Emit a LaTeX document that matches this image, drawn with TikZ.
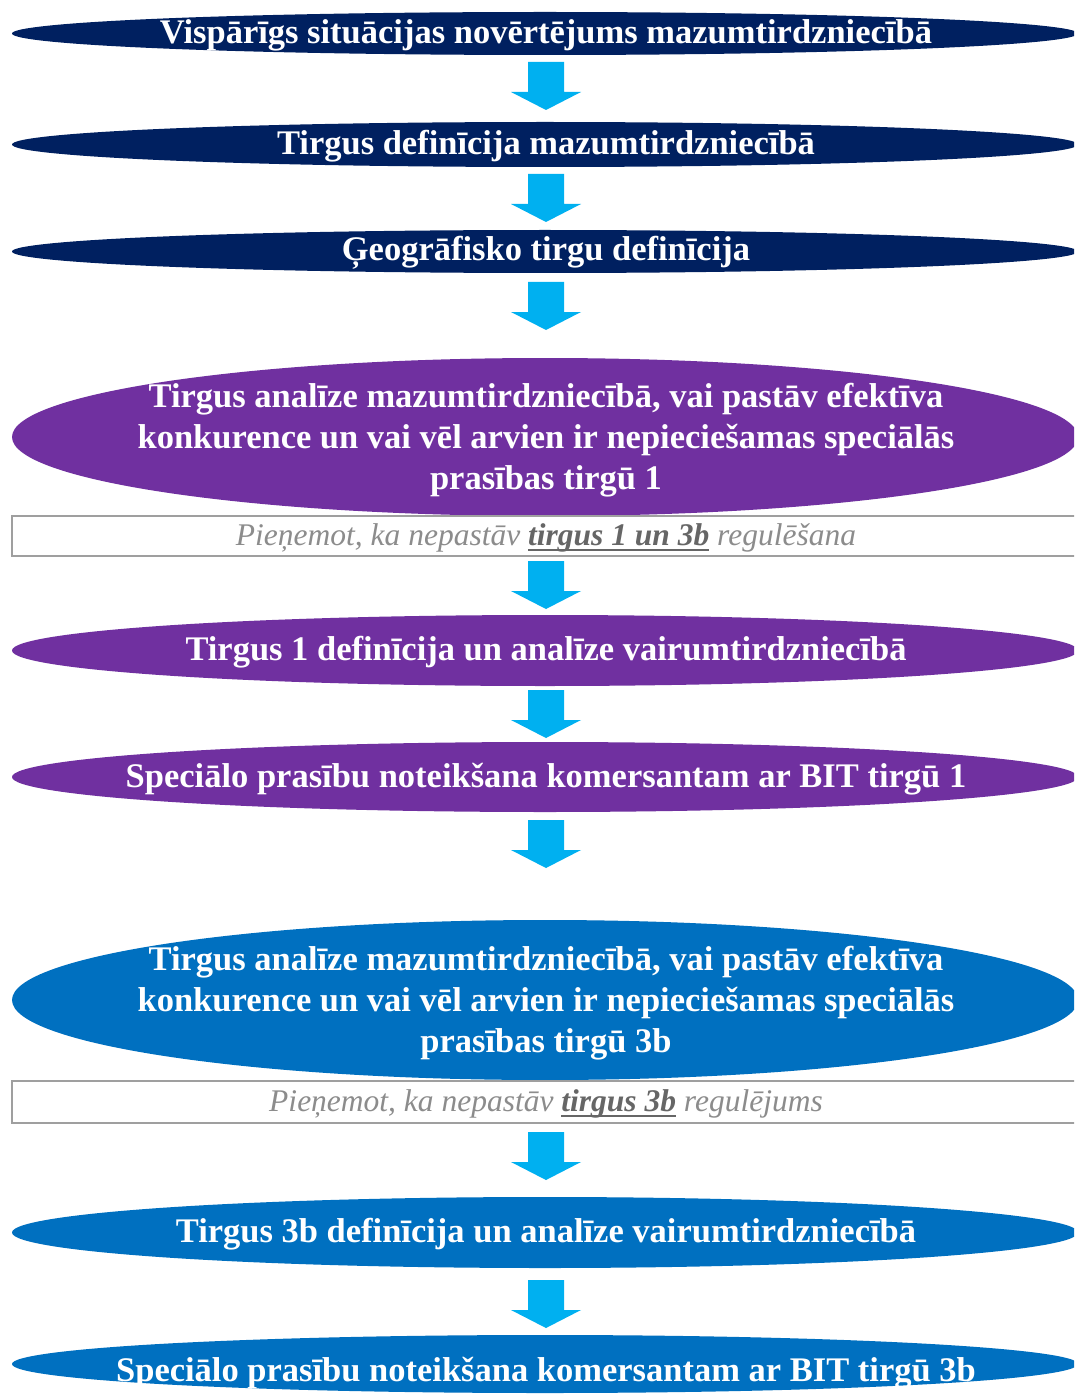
\documentclass[tikz,border=0pt]{standalone}
\usepackage{fontspec}
\setmainfont{Liberation Serif}
\usetikzlibrary{shapes.geometric}
\definecolor{navy}{HTML}{002060}
\definecolor{purp}{HTML}{7030A0}
\definecolor{blu}{HTML}{0070C0}
\definecolor{arrowblue}{HTML}{00B0F0}
\definecolor{notegray}{HTML}{8C8C8C}
\definecolor{notedark}{HTML}{666666}
\newcommand\myul[1]{\setbox0\hbox{\color{notedark}#1}\rlap{\color{notedark}\rule[-5pt]{\wd0}{2pt}}\box0}
\newcommand\blockarr[1]{\fill[arrowblue] (#1) ++(-18,0) -- ++(36,0) -- ++(0,30) -- ++(17,0) -- ++(-35,18) -- ++(-35,-18) -- ++(17,0) -- cycle;}
\begin{document}
\begin{tikzpicture}[x=1pt,y=-1pt,
  stagebg/.style={ellipse, inner sep=0pt, minimum width=1066pt},
  stagetext/.style={inner sep=0pt, text=white, align=center, font=\fontsize{34.5}{41}\selectfont\bfseries},
  notebox/.style={draw=gray!75, line width=1.5pt, minimum width=1076pt, inner sep=0pt},
  notetext/.style={inner sep=0pt, text=notegray, font=\fontsize{31.5}{36}\selectfont\itshape}]
\useasboundingbox (0,0) rectangle (1074,1396);
\clip (0,0) rectangle (1074,1396);
\fill[white] (0,0) rectangle (1074,1396);

% stage 1
\node[stagebg, fill=navy, minimum height=43pt] (e1) at (545,33.5) {};
\node[stagetext] (t1) at (546,35) {Vispārīgs situācijas novērtējums mazumtirdzniecībā};
\coordinate (a1) at (546,62);
\blockarr{a1}
% stage 2
\node[stagebg, fill=navy, minimum height=45pt] (e2) at (545,144.5) {};
\node[stagetext] (t2) at (546,146) {Tirgus definīcija mazumtirdzniecībā};
\coordinate (a2) at (546,174);
\blockarr{a2}
% stage 3
\node[stagebg, fill=navy, minimum height=43pt] (e3) at (545,251.5) {};
\node[stagetext] (t3) at (546,253) {Ģeogrāfisko tirgu definīcija};
\coordinate (a3) at (546,282);
\blockarr{a3}
% stage 4
\node[stagebg, fill=purp, minimum height=158pt] (e4) at (545,437) {};
\node[stagetext] (t4) at (546,440) {Tirgus analīze mazumtirdzniecībā, vai pastāv efektīva\\konkurence un vai vēl arvien ir nepieciešamas speciālās\\prasības tirgū 1};
\node[notebox, minimum height=40pt] (n1) at (550,536) {};
\node[notetext] (nt1) at (546,538) {Pieņemot, ka nepastāv \myul{\bfseries tirgus 1 un 3b}\ \textcolor{notegray}{regulēšana}};
\coordinate (a4) at (546,561);
\blockarr{a4}
% stage 6
\node[stagebg, fill=purp, minimum height=71pt] (e6) at (545,650.5) {};
\node[stagetext] (t6) at (546,652) {Tirgus 1 definīcija un analīze vairumtirdzniecībā};
\coordinate (a5) at (546,690);
\blockarr{a5}
% stage 7
\node[stagebg, fill=purp, minimum height=70pt] (e7) at (545,777) {};
\node[stagetext] (t7) at (546,779) {Speciālo prasību noteikšana komersantam ar BIT tirgū 1};
\coordinate (a6) at (546,820);
\blockarr{a6}
% stage 8
\node[stagebg, fill=blu, minimum height=160pt] (e8) at (545,1000) {};
\node[stagetext] (t8) at (546,1003) {Tirgus analīze mazumtirdzniecībā, vai pastāv efektīva\\konkurence un vai vēl arvien ir nepieciešamas speciālās\\prasības tirgū 3b};
\node[notebox, minimum height=42pt] (n2) at (550,1102) {};
\node[notetext] (nt2) at (546,1104) {Pieņemot, ka nepastāv \myul{\bfseries tirgus 3b}\ \textcolor{notegray}{regulējums}};
\coordinate (a7) at (546,1132);
\blockarr{a7}
% stage 10
\node[stagebg, fill=blu, minimum height=71pt] (e10) at (545,1232.5) {};
\node[stagetext] (t10) at (546,1234) {Tirgus 3b definīcija un analīze vairumtirdzniecībā};
\coordinate (a8) at (546,1280);
\blockarr{a8}
% stage 11
\node[stagebg, fill=blu, minimum height=58pt] (e11) at (545,1364) {};
\node[stagetext] (t11) at (546,1373) {Speciālo prasību noteikšana komersantam ar BIT tirgū 3b};
\end{tikzpicture}
\end{document}
